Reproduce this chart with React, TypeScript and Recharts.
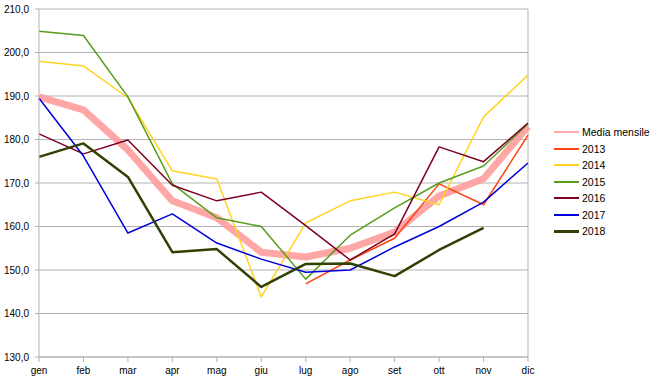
import { LineChart, Line, XAxis, YAxis, CartesianGrid, ReferenceLine } from 'recharts'

const months = ['gen', 'feb', 'mar', 'apr', 'mag', 'giu', 'lug', 'ago', 'set', 'ott', 'nov', 'dic']
const yTicks = [130, 140, 150, 160, 170, 180, 190, 200, 210]

const media = [189.8, 186.8, 177.6, 165.9, 162, 154.1, 153, 155, 158.7, 167, 171, 183]
const y2013 = [null, null, null, null, null, null, 146.8, 152.3, 157.3, 169.8, 165, 181]
const y2014 = [198, 196.9, 189.6, 172.8, 170.9, 143.8, 160.8, 165.9, 167.9, 165, 185.2, 194.8]
const y2015 = [204.9, 203.9, 189.8, 169.8, 162, 160, 147.9, 158, 164.3, 170, 173.9, 183.6]
const y2016 = [181.3, 176.7, 179.9, 169.5, 165.9, 167.9, 160.2, 152.3, 158.3, 178.3, 174.9, 183.8]
const y2017 = [189.5, 176.2, 158.5, 162.9, 156.2, 152.5, 149.5, 150, 155.3, 160, 165.6, 174.6]
const y2018 = [176, 179.1, 171.4, 154.1, 154.8, 146.1, 151.4, 151.5, 148.6, 154.6, 159.7, null]

const series = [
  { key: 'media', name: 'Media mensile', values: media, color: '#ff9c9c', width: 7 },
  { key: 's2013', name: '2013', values: y2013, color: '#ff420e', width: 1.5 },
  { key: 's2014', name: '2014', values: y2014, color: '#ffd320', width: 1.5 },
  { key: 's2015', name: '2015', values: y2015, color: '#579d1c', width: 1.5 },
  { key: 's2016', name: '2016', values: y2016, color: '#7e0021', width: 1.5 },
  { key: 's2017', name: '2017', values: y2017, color: '#0000dd', width: 1.5 },
  { key: 's2018', name: '2018', values: y2018, color: '#314004', width: 2.5 },
]

const data = months.map((m, i) => {
  const row: Record<string, string | number | null> = { month: m }
  series.forEach((s) => {
    row[s.key] = s.values[i]
  })
  return row
})

const font = '"Liberation Sans", Arial, sans-serif'
const gray = '#b3b3b3'

export default function App() {
  return (
    <div style={{ position: 'absolute', left: 0, top: 0, width: 658, height: 384, background: '#fff', fontFamily: font }}>
      <LineChart width={658} height={384} data={data} margin={{ top: 9, right: 130, bottom: 0, left: 0 }}>
        <CartesianGrid vertical={false} stroke={gray} strokeWidth={1} />
        <XAxis
          dataKey="month"
          stroke={gray}
          tickLine={{ stroke: gray }}
          tickSize={5}
          tickMargin={5}
          height={27}
          interval={0}
          tick={{ fill: '#000', fontSize: 10, fontFamily: font }}
        />
        <YAxis
          domain={[130, 210]}
          ticks={yTicks}
          width={39}
          stroke={gray}
          tickSize={4}
          tickMargin={6}
          tickFormatter={(v: number) => v.toFixed(1).replace('.', ',')}
          tick={{ fill: '#000', fontSize: 10, fontFamily: font }}
        />
        <ReferenceLine x="dic" stroke={gray} />
        {series.map((s) => (
          <Line
            key={s.key}
            dataKey={s.key}
            name={s.name}
            type="linear"
            stroke={s.color}
            strokeWidth={s.width}
            strokeLinejoin="round"
            strokeOpacity={s.key === 'media' ? 0.9 : 1}
            dot={false}
            activeDot={false}
            isAnimationActive={false}
          />
        ))}
      </LineChart>
      <div style={{ position: 'absolute', left: 554, top: 124, fontSize: 10.5, color: '#000' }}>
        {series.map((s) => (
          <div key={s.key} style={{ display: 'flex', alignItems: 'center', height: 16.5 }}>
            <div
              style={{
                width: 25,
                height: s.key === 's2018' ? 2.5 : 2,
                background: s.key === 'media' ? '#ffaaaa' : s.color,
                marginRight: 3,
              }}
            />
            <span>{s.name}</span>
          </div>
        ))}
      </div>
    </div>
  )
}
